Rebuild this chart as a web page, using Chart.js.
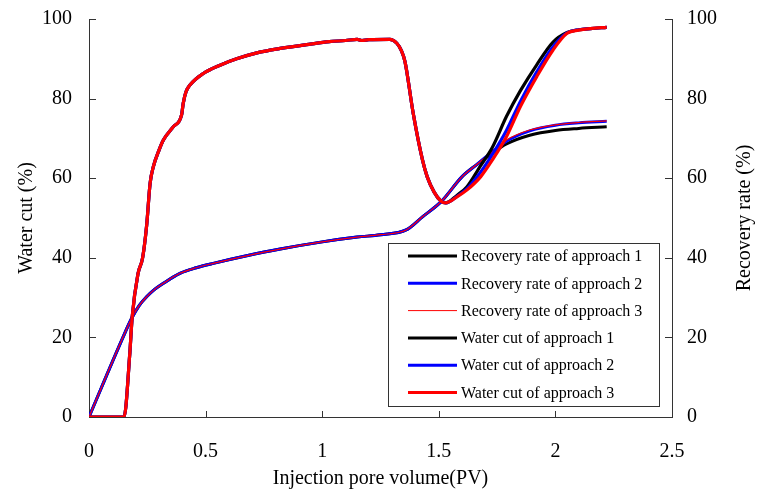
<!DOCTYPE html>
<html>
<head>
<meta charset="utf-8">
<title>Water cut and recovery rate</title>
<script src="https://cdn.jsdelivr.net/npm/chart.js@4.4.0/dist/chart.umd.min.js"></script>
<style>
    html, body { margin: 0; padding: 0; background: #fff; }
    canvas { display: block; }
</style>
</head>
<body>
<canvas id="chart" width="757" height="491"></canvas>
<script>
// Injection pore volume (PV) sample points for the water cut curves
const waterPV = [0, 0.15, 0.175, 0.185, 0.21, 0.23, 0.247, 0.262, 0.276, 0.3,
    0.319, 0.361, 0.397, 0.404, 0.416, 0.433, 0.49, 0.562, 0.633, 0.72,
    0.82, 0.95, 1.03, 1.1, 1.15, 1.17, 1.2, 1.29, 1.32, 1.34,
    1.355, 1.39, 1.43, 1.45, 1.48, 1.51, 1.53, 1.58, 1.62, 1.68,
    1.73, 1.79, 1.85, 1.92, 1.99, 2.05, 2.1, 2.15, 2.22];

const waterCut1 = [0, 0, 16, 25, 36, 40, 48, 58.7, 62.9, 67,
    69.6, 72.9, 75.9, 78.8, 81.7, 83.4, 86.3, 88.4, 90, 91.5,
    92.6, 93.7, 94.3, 94.6, 94.9, 94.6, 94.8, 94.9, 93.9, 92,
    89.3, 76.4, 64.6, 60.4, 56.5, 54.2, 53.8, 55.8, 57.8, 63.2,
    67.8, 75.5, 82, 88.5, 94.2, 96.6, 97.3, 97.6, 97.9];

const waterCut2 = [0, 0, 16, 25, 36, 40, 48, 58.7, 62.9, 67,
    69.6, 72.9, 75.9, 78.8, 81.7, 83.4, 86.3, 88.4, 90, 91.5,
    92.6, 93.7, 94.3, 94.6, 94.9, 94.6, 94.8, 94.9, 93.9, 92,
    89.3, 76.4, 64.6, 60.4, 56.5, 54.2, 53.8, 55.5, 57.3, 61.6,
    66, 72, 79.3, 86.7, 93, 96.5, 97.3, 97.6, 97.9];

const waterCut3 = [0, 0, 16, 25, 36, 40, 48, 58.7, 62.9, 67,
    69.6, 72.9, 75.9, 78.8, 81.7, 83.4, 86.3, 88.4, 90, 91.5,
    92.6, 93.7, 94.3, 94.6, 94.9, 94.6, 94.8, 94.9, 93.9, 92,
    89.3, 76.4, 64.6, 60.4, 56.5, 54.2, 53.8, 55.4, 57, 60.4,
    64.6, 70.4, 78, 85.5, 92.2, 96.4, 97.2, 97.6, 97.9];

// PV sample points for the recovery rate curves
const recoveryPV = [0, 0.147, 0.183, 0.215, 0.247, 0.28, 0.319, 0.39, 0.46, 0.533,
    0.676, 0.82, 1.0, 1.15, 1.25, 1.36, 1.43, 1.51, 1.6, 1.66,
    1.72, 1.79, 1.89, 2.0, 2.1, 2.22];

const recovery1 = [0, 20.2, 24.8, 28, 30.2, 32, 33.6, 36.1, 37.5, 38.6,
    40.5, 42.2, 44, 45.2, 45.8, 47, 50.3, 54.1, 60.4, 63.3,
    65.9, 68.6, 70.8, 72, 72.5, 72.9];

const recovery2 = [0, 20.2, 24.8, 28, 30.2, 32, 33.6, 36.1, 37.5, 38.6,
    40.5, 42.2, 44, 45.2, 45.8, 47, 50.3, 54.1, 60.4, 63.3,
    66.2, 69.3, 71.9, 73.3, 73.9, 74.3];

const recovery3 = [0, 20.2, 24.8, 28, 30.2, 32, 33.6, 36.1, 37.5, 38.6,
    40.5, 42.2, 44, 45.2, 45.8, 47, 50.3, 54.1, 60.4, 63.3,
    66.2, 69.6, 72.1, 73.4, 74, 74.4];

const xTicks = [0, 0.5, 1, 1.5, 2, 2.5];
const yTicks = [0, 20, 40, 60, 80, 100];

const serif = '"Liberation Serif", "Times New Roman", serif';
Chart.defaults.font.family = serif;
Chart.defaults.color = '#000';

const toPoints = (xs, ys) => xs.map((x, i) => ({ x: x, y: ys[i] }));

function series(label, xs, ys, color, width, axis, order, legendWidth) {
    return {
        label: label,
        data: toPoints(xs, ys),
        borderColor: color,
        backgroundColor: color,
        borderWidth: width,
        legendWidth: legendWidth,
        yAxisID: axis,
        order: order,
        pointRadius: 0,
        fill: false,
        cubicInterpolationMode: 'monotone'
    };
}

const datasets = [
    series('Recovery rate of approach 1', recoveryPV, recovery1, '#000000', 3, 'y1', 6, 3),
    series('Recovery rate of approach 2', recoveryPV, recovery2, '#0000ff', 3, 'y1', 5, 3),
    series('Recovery rate of approach 3', recoveryPV, recovery3, '#ff0000', 1.2, 'y1', 4, 1),
    series('Water cut of approach 1', waterPV, waterCut1, '#000000', 3.2, 'y', 3, 3),
    series('Water cut of approach 2', waterPV, waterCut2, '#0000ff', 3.2, 'y', 2, 3),
    series('Water cut of approach 3', waterPV, waterCut3, '#ff0000', 3.2, 'y', 1, 3)
];

// short tick marks pointing into the plot area
const innerTicks = {
    id: 'innerTicks',
    beforeDatasetsDraw(chart) {
        const { ctx, chartArea, scales } = chart;
        ctx.save();
        ctx.strokeStyle = '#333';
        ctx.lineWidth = 1;
        ctx.beginPath();
        xTicks.forEach(v => {
            const px = Math.round(scales.x.getPixelForValue(v)) + 0.5;
            ctx.moveTo(px, chartArea.bottom);
            ctx.lineTo(px, chartArea.bottom - 6);
        });
        yTicks.forEach(v => {
            const py = Math.round(scales.y.getPixelForValue(v)) + 0.5;
            ctx.moveTo(chartArea.left, py);
            ctx.lineTo(chartArea.left + 7, py);
            const pr = Math.round(scales.y1.getPixelForValue(v)) + 0.5;
            ctx.moveTo(chartArea.right, pr);
            ctx.lineTo(chartArea.right - 7, pr);
        });
        ctx.stroke();
        ctx.restore();
    }
};

// right axis title, read bottom to top like the left one
const rightTitle = {
    id: 'rightTitle',
    afterDraw(chart) {
        const { ctx, chartArea } = chart;
        ctx.save();
        ctx.translate(745, (chartArea.top + chartArea.bottom) / 2);
        ctx.rotate(-Math.PI / 2);
        ctx.font = '20px ' + serif;
        ctx.fillStyle = '#000';
        ctx.textAlign = 'center';
        ctx.textBaseline = 'middle';
        ctx.fillText('Recovery rate (%)', 0, 0);
        ctx.restore();
    }
};

// boxed legend in the lower right of the plot
const boxLegend = {
    id: 'boxLegend',
    afterDraw(chart) {
        const { ctx, chartArea } = chart;
        const boxRight = chartArea.right - 13;
        const boxLeft = boxRight - 271;
        const boxBottom = chartArea.bottom - 11;
        const boxTop = boxBottom - 163;
        ctx.save();
        ctx.fillStyle = '#fff';
        ctx.fillRect(boxLeft, boxTop, boxRight - boxLeft, boxBottom - boxTop);
        ctx.strokeStyle = '#333';
        ctx.lineWidth = 1;
        ctx.strokeRect(Math.round(boxLeft) + 0.5, Math.round(boxTop) + 0.5,
            Math.round(boxRight - boxLeft), Math.round(boxBottom - boxTop));
        ctx.font = '16px ' + serif;
        ctx.textBaseline = 'middle';
        ctx.fillStyle = '#000';
        chart.data.datasets.forEach((ds, i) => {
            const y = boxTop + 13 + i * 27.3;
            ctx.beginPath();
            ctx.strokeStyle = ds.borderColor;
            ctx.lineWidth = ds.legendWidth;
            ctx.moveTo(boxLeft + 20, y);
            ctx.lineTo(boxLeft + 69, y);
            ctx.stroke();
            ctx.fillText(ds.label, boxLeft + 73, y + 1);
        });
        ctx.restore();
    }
};

const fitVertical = width => s => {
    s.width = width;
    s.paddingTop = 0;
    s.paddingBottom = 0;
};

new Chart(document.getElementById('chart'), {
    type: 'line',
    data: { datasets: datasets },
    plugins: [innerTicks, rightTitle, boxLegend],
    options: {
        responsive: false,
        animation: false,
        layout: { padding: { top: 19, left: 0, right: 0, bottom: 0 } },
        plugins: {
            legend: { display: false },
            tooltip: { enabled: false }
        },
        scales: {
            x: {
                type: 'linear',
                min: 0,
                max: 2.5,
                afterFit: s => { s.height = 74; s.paddingLeft = 0; s.paddingRight = 0; },
                afterBuildTicks: s => { s.ticks = xTicks.map(v => ({ value: v })); },
                grid: { display: false, drawTicks: false },
                border: { display: true, color: '#333', width: 1 },
                ticks: { padding: 23, font: { size: 20 }, maxRotation: 0, callback: v => String(v) },
                title: {
                    display: true,
                    text: 'Injection pore volume(PV)',
                    font: { size: 20 },
                    padding: { top: 0, bottom: 0 }
                }
            },
            y: {
                position: 'left',
                min: 0,
                max: 100,
                afterFit: fitVertical(89),
                afterBuildTicks: s => { s.ticks = yTicks.map(v => ({ value: v })); },
                grid: { display: false, drawTicks: false },
                border: { display: true, color: '#333', width: 1 },
                ticks: { padding: 17, font: { size: 20 } },
                title: {
                    display: true,
                    text: 'Water cut (%)',
                    font: { size: 20 },
                    padding: { top: 15, bottom: 0 }
                }
            },
            y1: {
                position: 'right',
                min: 0,
                max: 100,
                afterFit: fitVertical(85),
                afterBuildTicks: s => { s.ticks = yTicks.map(v => ({ value: v })); },
                grid: { display: false, drawTicks: false },
                border: { display: true, color: '#333', width: 1 },
                ticks: { padding: 15, font: { size: 20 } },
                title: { display: false }
            }
        }
    }
});
</script>
</body>
</html>
